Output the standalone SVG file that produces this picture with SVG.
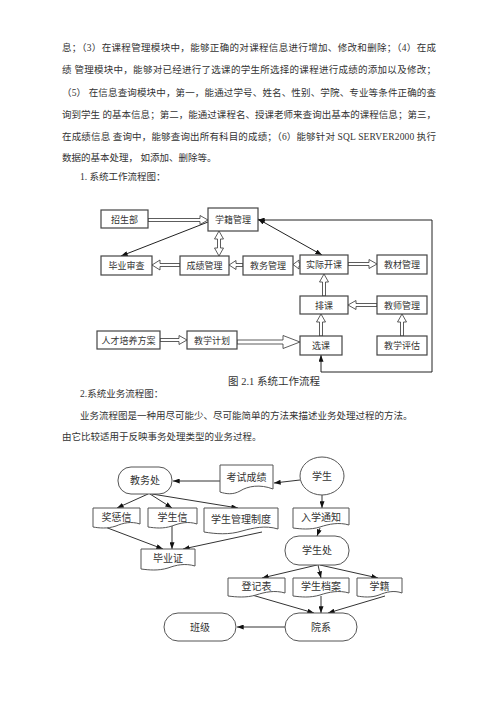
<svg xmlns="http://www.w3.org/2000/svg" width="500" height="707" viewBox="0 0 500 707">
<style>
.t{font-family:"Liberation Serif","Noto Sans CJK SC",serif;font-size:9.5px;fill:#333}
.b{font-family:"Liberation Serif","Noto Sans CJK SC",serif;font-size:9px;fill:#333;text-anchor:middle}
.c{font-family:"Liberation Serif","Noto Sans CJK SC",serif;font-size:10px;fill:#333;text-anchor:middle}
.box{fill:#fff;stroke:#444;stroke-width:1.2}
.shp{fill:#fff;stroke:#555;stroke-width:1}
.ho{fill:#fff;stroke:#333;stroke-width:0.8}
.ln{fill:none;stroke:#222;stroke-width:1}
.ln2{fill:none;stroke:#333;stroke-width:1}
</style>
<defs>
<marker id="ah" viewBox="0 0 8 6" refX="8" refY="3" markerWidth="7" markerHeight="5" markerUnits="userSpaceOnUse" orient="auto-start-reverse">
<path d="M0,0 L8,3 L0,6 Z" fill="#111"/>
</marker>
</defs>
<rect width="500" height="707" fill="#fff"/>

<g id="text">
<text class="t" x="62" y="51" textLength="374" lengthAdjust="spacing">息；（3）在课程管理模块中，能够正确的对课程信息进行增加、修改和删除；（4）在成</text>
<text class="t" x="62" y="73" textLength="374" lengthAdjust="spacing">绩 管理模块中，能够对已经进行了选课的学生所选择的课程进行成绩的添加以及修改；</text>
<text class="t" x="62" y="96" textLength="374" lengthAdjust="spacing">（5） 在信息查询模块中，第一，能通过学号、姓名、性别、学院、专业等条件正确的查</text>
<text class="t" x="62" y="118" textLength="374" lengthAdjust="spacing">询到学生 的基本信息；第二，能通过课程名、授课老师来查询出基本的课程信息；第三，</text>
<text class="t" x="62" y="140" textLength="374" lengthAdjust="spacing">在成绩信息 查询中，能够查询出所有科目的成绩；（6）能够针对 SQL SERVER2000 执行</text>
<text class="t" x="62" y="161">数据的基本处理， 如添加、删除等。</text>
<text class="t" x="80" y="180">1. 系统工作流程图：</text>
<text class="t" x="274" y="385" text-anchor="middle" style="font-size:10.5px">图 2.1 系统工作流程</text>
<text class="t" x="80" y="397">2.系统业务流程图：</text>
<text class="t" x="80" y="419">业务流程图是一种用尽可能少、尽可能简单的方法来描述业务处理过程的方法。</text>
<text class="t" x="62" y="440">由它比较适用于反映事务处理类型的业务过程。</text>
</g>

<!-- Diagram 1 -->
<g id="d1-connectors">
<path class="ho" d="M148,218.5 H200 V215.5 L208,220 L200,224.5 V221.5 H148 Z"/>
<path class="ho" d="M217.5,239 V248 H214.5 L219,256 L223.5,248 H220.5 V239 H223.5 L219,231 L214.5,239 Z"/>
<path class="ho" d="M180,263.5 H160 V260 L152,265 L160,270 V266.5 H180 Z"/>
<path class="ho" d="M243,263.5 H236 V260.5 L229,265 L236,269.5 V266.5 H243 Z"/>
<path class="ho" d="M300,263 H299 V260 L293,264.5 L299,269 V266 H300 Z"/>
<path class="ho" d="M348,262.5 H369 V259.5 L377,264 L369,268.5 V265.5 H348 Z"/>
<path class="ho" d="M322.5,296 V282 H319.5 L324,274 L328.5,282 H325.5 V296 Z"/>
<path class="ho" d="M319.5,336 V322 H316.5 L321,314 L325.5,322 H322.5 V336 Z"/>
<path class="ho" d="M377,303.5 H356 V300.5 L348,305 L356,309.5 V306.5 H377 Z"/>
<path class="ho" d="M400.5,336 V322 H397.5 L402,314 L406.5,322 H403.5 V336 Z"/>
<path class="ho" d="M160,338.5 H179 V335.5 L187,340 L179,344.5 V341.5 H160 Z"/>
<path class="ho" d="M237,340 H283 V335.5 L300,342 L283,348.5 V344 H237 Z"/>
<line class="ln" x1="208" y1="222" x2="121" y2="256" marker-end="url(#ah)"/>
<line class="ln" x1="258" y1="219" x2="322" y2="255" marker-start="url(#ah)" marker-end="url(#ah)"/>
<path class="ln" d="M258,220 H432 V372 H321 V355" marker-start="url(#ah)" marker-end="url(#ah)"/>
</g>
<g id="n-zhaosheng"><rect class="box" x="101" y="210" width="47" height="18"/><text class="b" x="124.5" y="222.5">招生部</text></g>
<g id="n-xueji"><rect class="box" x="208" y="208" width="50" height="23"/><text class="b" x="233" y="223">学籍管理</text></g>
<g id="n-biye"><rect class="box" x="101" y="256" width="51" height="19"/><text class="b" x="126.5" y="269">毕业审查</text></g>
<g id="n-chengji"><rect class="box" x="180" y="256" width="49" height="19"/><text class="b" x="204.5" y="269">成绩管理</text></g>
<g id="n-jiaowu"><rect class="box" x="243" y="256" width="50" height="19"/><text class="b" x="268" y="269">教务管理</text></g>
<g id="n-shiji"><rect class="box" x="300" y="255" width="48" height="19"/><text class="b" x="324" y="268">实际开课</text></g>
<g id="n-jiaocai"><rect class="box" x="377" y="255" width="50" height="19"/><text class="b" x="402" y="268">教材管理</text></g>
<g id="n-paike"><rect class="box" x="300" y="296" width="48" height="18"/><text class="b" x="324" y="308.5">排课</text></g>
<g id="n-jiaoshi"><rect class="box" x="377" y="296" width="50" height="18"/><text class="b" x="402" y="308.5">教师管理</text></g>
<g id="n-rencai"><rect class="box" x="97" y="331" width="63" height="18"/><text class="b" x="128.5" y="343.5">人才培养方案</text></g>
<g id="n-jihua"><rect class="box" x="187" y="331" width="50" height="18"/><text class="b" x="212" y="343.5">教学计划</text></g>
<g id="n-xuanke"><rect class="box" x="300" y="336" width="42" height="19"/><text class="b" x="321" y="349">选课</text></g>
<g id="n-pinggu"><rect class="box" x="377" y="336" width="50" height="19"/><text class="b" x="402" y="349">教学评估</text></g>

<!-- Diagram 2 -->
<g id="d2-connectors">
<line class="ln2" x1="300" y1="480" x2="274" y2="483" marker-end="url(#ah)"/>
<line class="ln2" x1="220" y1="481" x2="173" y2="481" stroke-width="1.3" marker-end="url(#ah)"/>
<line class="ln2" x1="148" y1="494" x2="117" y2="508" marker-end="url(#ah)"/>
<line class="ln2" x1="150" y1="494" x2="172" y2="508" marker-end="url(#ah)"/>
<line class="ln2" x1="152" y1="494" x2="238" y2="508" marker-end="url(#ah)"/>
<line class="ln2" x1="105" y1="527" x2="163" y2="549" marker-end="url(#ah)"/>
<line class="ln2" x1="172" y1="526" x2="172" y2="549" marker-end="url(#ah)"/>
<line class="ln2" x1="262" y1="532" x2="183" y2="549" marker-end="url(#ah)"/>
<line class="ln2" x1="322" y1="495" x2="322" y2="508" marker-end="url(#ah)"/>
<line class="ln2" x1="320" y1="528" x2="317" y2="536" marker-end="url(#ah)"/>
<line class="ln2" x1="317" y1="565" x2="262" y2="578" marker-end="url(#ah)"/>
<line class="ln2" x1="318" y1="565" x2="321" y2="578" marker-end="url(#ah)"/>
<line class="ln2" x1="320" y1="565" x2="378" y2="578" marker-end="url(#ah)"/>
<line class="ln2" x1="252" y1="595" x2="314" y2="613" marker-end="url(#ah)"/>
<line class="ln2" x1="321" y1="596" x2="321" y2="613" marker-end="url(#ah)"/>
<line class="ln2" x1="385" y1="596" x2="328" y2="613" marker-end="url(#ah)"/>
<line class="ln2" x1="285" y1="627" x2="237" y2="627" stroke="#666" stroke-width="1.6" marker-end="url(#ah)"/>
</g>
<g id="n-xuesheng"><ellipse class="shp" cx="322" cy="476" rx="22" ry="19"/><text class="c" x="322" y="479.5">学生</text></g>
<g id="n-kaoshi"><path class="shp" d="M220,465 H273 V489 C260,484 248,486 240,491 C233,495 226,494 220,492 Z"/><text class="c" x="246.5" y="481">考试成绩</text></g>
<g id="n-jiaowuchu"><rect class="shp" x="118" y="467" width="54" height="27" rx="13"/><text class="c" x="145" y="484">教务处</text></g>
<g id="n-jiangcheng"><path class="shp" d="M93,508 H140 V524 C131,521 123,523 116,526 C107,529 99,528 93,527 Z"/><text class="c" x="116.5" y="520.5">奖惩信</text></g>
<g id="n-xueshengxin"><path class="shp" d="M148,508 H197 V524 C188,521 180,523 172,526 C163,529 155,528 148,527 Z"/><text class="c" x="172.5" y="520.5">学生信</text></g>
<g id="n-zhidu"><path class="shp" d="M204,508 H278 V529 C265,525 253,528 242,531 C229,535 216,534 204,532 Z"/><text class="c" x="241" y="523">学生管理制度</text></g>
<g id="n-biyezheng"><path class="shp" d="M141,549 H195 V566 C185,563 176,565 168,568 C158,571 149,570 141,569 Z"/><text class="c" x="168" y="562">毕业证</text></g>
<g id="n-ruxue"><path class="shp" d="M293,508 H349 V525 C339,522 329,524 320,527 C310,530 301,529 293,528 Z"/><text class="c" x="321" y="521">入学通知</text></g>
<g id="n-xueshengchu"><rect class="shp" x="285" y="536" width="64" height="29" rx="14"/><text class="c" x="317" y="554">学生处</text></g>
<g id="n-dengji"><path class="shp" d="M228,578 H285 V593 C275,590 265,592 256,595 C246,598 236,597 228,596 Z"/><text class="c" x="256.5" y="590">登记表</text></g>
<g id="n-dangan"><path class="shp" d="M293,578 H349 V593 C339,590 329,592 320,595 C310,598 301,597 293,596 Z"/><text class="c" x="321" y="590">学生档案</text></g>
<g id="n-xuejichu"><path class="shp" d="M357,578 H402 V593 C394,590 386,592 379,595 C371,598 363,597 357,596 Z"/><text class="c" x="379.5" y="590">学籍</text></g>
<g id="n-yuanxi"><rect class="shp" x="285" y="613" width="72" height="28" rx="14"/><text class="c" x="321" y="630.5">院系</text></g>
<g id="n-banji"><rect class="shp" x="164" y="613" width="72" height="28" rx="14"/><text class="c" x="200" y="630.5">班级</text></g>
</svg>
